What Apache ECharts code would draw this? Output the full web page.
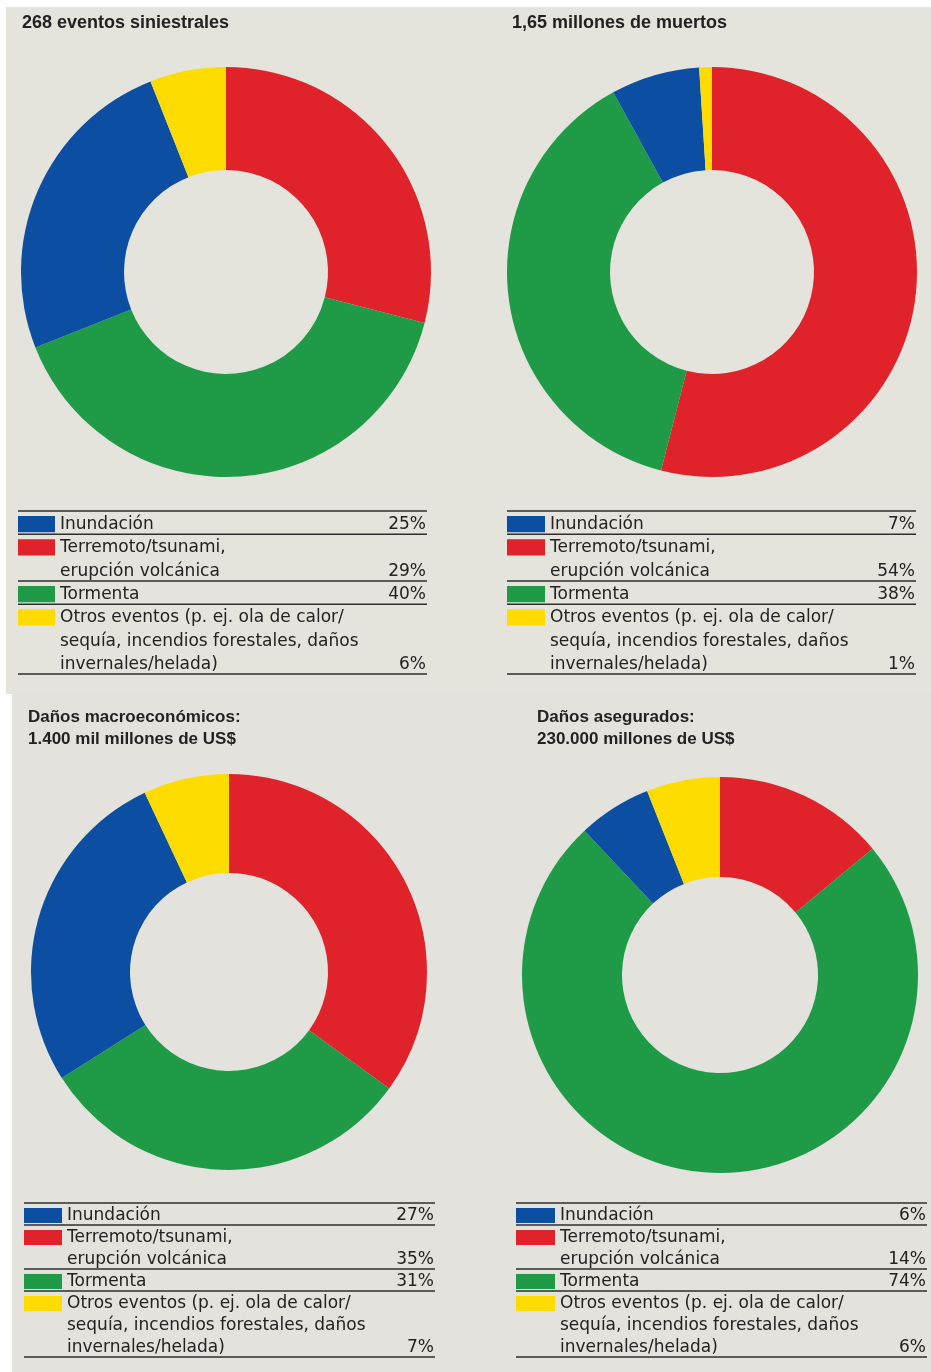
<!DOCTYPE html>
<html>
<head>
<meta charset="utf-8">
<script src="https://cdn.jsdelivr.net/npm/echarts@6/dist/echarts.min.js"></script>
<style>
html,body{margin:0;padding:0;background:#ffffff;}
#chart{width:931px;height:1372px;}
</style>
</head>
<body>
<div id="chart"></div>
<script>
// ---- data ----
var categories = ['Inundación', 'Terremoto/tsunami, erupción volcánica', 'Tormenta', 'Otros eventos (p. ej. ola de calor/ sequía, incendios forestales, daños invernales/helada)'];
var categoryLines = [
  ['Inundación'],
  ['Terremoto/tsunami,', 'erupción volcánica'],
  ['Tormenta'],
  ['Otros eventos (p. ej. ola de calor/', 'sequía, incendios forestales, daños', 'invernales/helada)']
];
var titles = [
  ['268 eventos siniestrales'],
  ['1,65 millones de muertos'],
  ['Daños macroeconómicos:', '1.400 mil millones de US$'],
  ['Daños asegurados:', '230.000 millones de US$']
];
var eventosValues  = [25, 29, 40, 6];
var muertosValues  = [7, 54, 38, 1];
var macroValues    = [27, 35, 31, 7];
var aseguradosValues = [6, 14, 74, 6];
var allValues = [eventosValues, muertosValues, macroValues, aseguradosValues];
var colors = ['#0b4ea2', '#e0222b', '#1f9b47', '#ffdc00'];
var pieOrder = [1, 2, 0, 3]; // clockwise from 12 o'clock

// ---- layout (positions/styles only) ----
var pies = [
  {center: [226, 272], radius: [102, 205]},
  {center: [712, 272], radius: [102, 205]},
  {center: [229, 972], radius: [99, 198]},
  {center: [720, 975], radius: [98, 198]}
];
var tables = [
  {x0: 18, x1: 427, tx: 60, top: 511, rowH: 23.3},
  {x0: 507, x1: 916, tx: 550, top: 511, rowH: 23.3},
  {x0: 24, x1: 435, tx: 67, top: 1203, rowH: 22},
  {x0: 516, x1: 927, tx: 560, top: 1203, rowH: 22}
];
var titlePos = [
  {x: 22, y: 23, lh: 22, size: 18},
  {x: 512, y: 23, lh: 22, size: 18},
  {x: 28, y: 717, lh: 22, size: 17},
  {x: 537, y: 717, lh: 22, size: 17}
];
var textOffset = 2;
var bodyFont = '17px "DejaVu Sans", sans-serif';
var textColor = '#222222';
var lineColor = '#2e2e2e';

var graphics = [
  {type: 'rect', z: -10, silent: true, shape: {x: 6, y: 7, width: 925, height: 687}, style: {fill: '#e4e3dc'}},
  {type: 'rect', z: -10, silent: true, shape: {x: 12, y: 694, width: 919, height: 678}, style: {fill: '#e3e2dc'}}
];

titles.forEach(function (lines, p) {
  var tp = titlePos[p];
  lines.forEach(function (t, i) {
    graphics.push({type: 'text', silent: true, style: {
      text: t, x: tp.x, y: tp.y + i * tp.lh, fill: textColor,
      font: 'bold ' + tp.size + 'px "Liberation Sans", Arial, sans-serif',
      textAlign: 'left', textVerticalAlign: 'middle'}});
  });
});

tables.forEach(function (tb, p) {
  var row = 0;
  function hline(r) {
    var y = tb.top + r * tb.rowH;
    graphics.push({type: 'line', silent: true, shape: {x1: tb.x0, y1: y, x2: tb.x1, y2: y},
      style: {stroke: lineColor, lineWidth: 1.5}});
  }
  hline(0);
  categoryLines.forEach(function (lines, c) {
    var rowTop = tb.top + row * tb.rowH;
    graphics.push({type: 'rect', silent: true,
      shape: {x: tb.x0, y: rowTop + 5, width: tb.tx - tb.x0 - 5, height: tb.rowH - 7},
      style: {fill: colors[c]}});
    lines.forEach(function (t, i) {
      var cy = tb.top + (row + i + 0.5) * tb.rowH + textOffset;
      graphics.push({type: 'text', silent: true, style: {
        text: t, x: tb.tx, y: cy, fill: textColor, font: bodyFont,
        textAlign: 'left', textVerticalAlign: 'middle'}});
      if (i === lines.length - 1) {
        graphics.push({type: 'text', silent: true, style: {
          text: allValues[p][c] + '%', x: tb.x1 - 1, y: cy, fill: textColor, font: bodyFont,
          textAlign: 'right', textVerticalAlign: 'middle'}});
      }
    });
    row += lines.length;
    hline(row);
  });
});

var series = allValues.map(function (vals, p) {
  return {
    type: 'pie',
    center: pies[p].center,
    radius: pies[p].radius,
    startAngle: 90,
    clockwise: true,
    silent: true,
    label: {show: false},
    labelLine: {show: false},
    itemStyle: {borderWidth: 0},
    data: pieOrder.map(function (c) {
      return {name: categories[c], value: vals[c], itemStyle: {color: colors[c]}};
    })
  };
});

var chart = echarts.init(document.getElementById('chart'), null, {renderer: 'canvas'});
chart.setOption({
  animation: false,
  backgroundColor: '#ffffff',
  series: series,
  graphic: graphics
});
</script>
</body>
</html>
